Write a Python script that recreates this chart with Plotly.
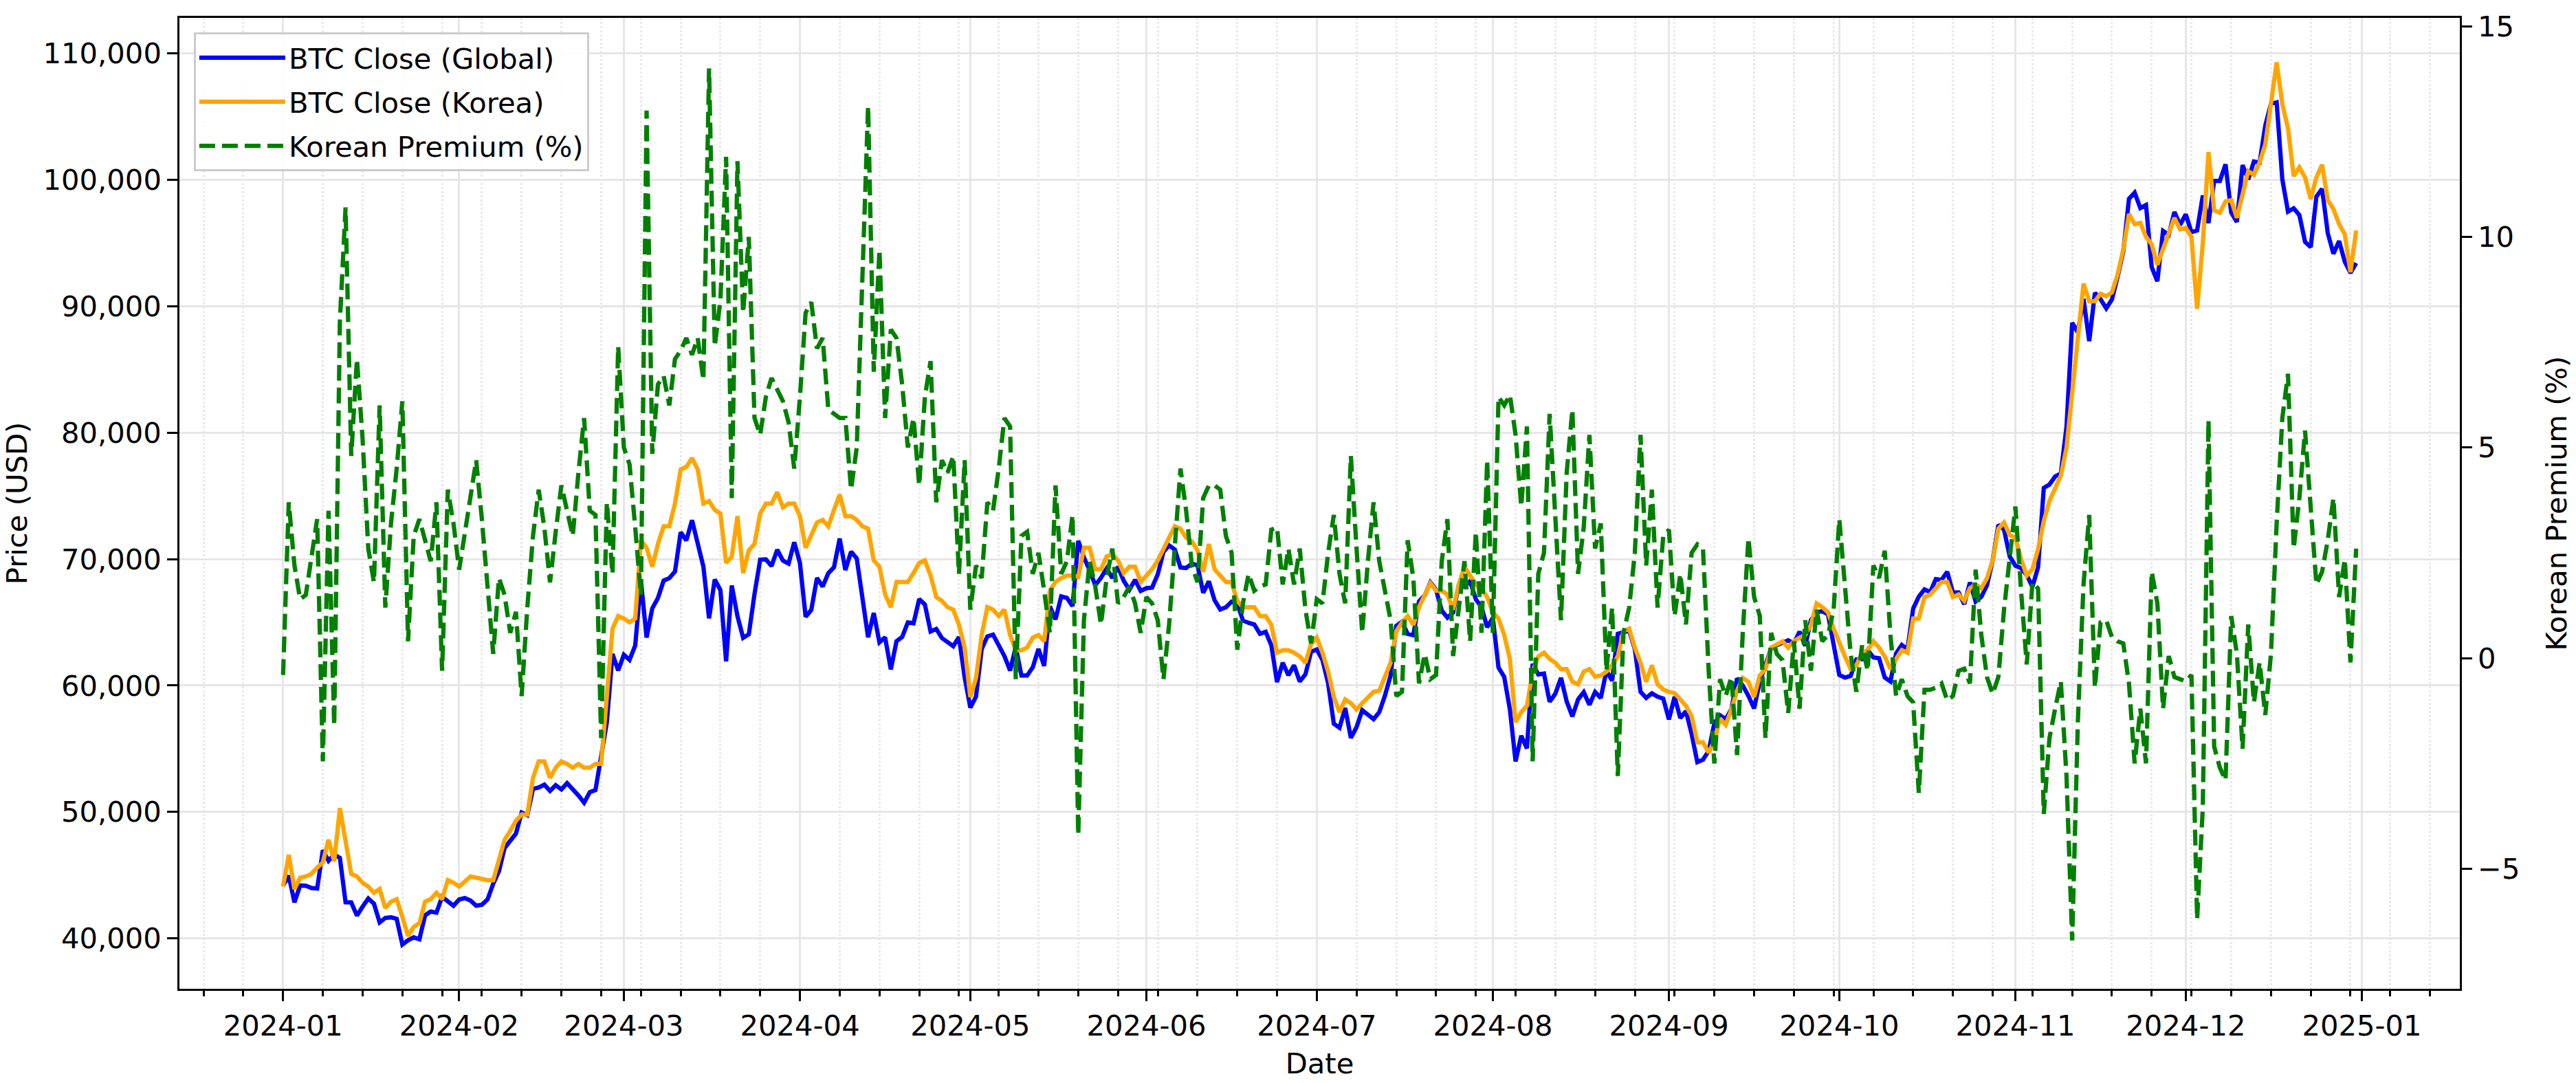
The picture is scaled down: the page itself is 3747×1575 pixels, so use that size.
import pandas as pd
import plotly.graph_objects as go

dates = pd.date_range("2024-01-01", "2024-12-31", freq="D")

global_close = [
    44167, 44958, 42848, 44180, 44163, 43989, 43943, 46970, 46139, 46628, 46368, 42854, 42842, 41796, 42511, 43154,
    42742, 41262, 41618, 41665, 41545, 39507, 39845, 40077, 39933, 41816, 42120, 42035, 43289, 42952, 42582,
    43075, 43185, 42992, 42583, 42658, 43084, 44318, 45301, 47147, 47771, 48293, 49958, 49742, 51826, 51938, 52160,
    51663, 52122, 51779, 52284, 51839, 51304, 50731, 51571, 51733, 54522, 57085, 62504, 61198,
    62440, 62029, 63167, 68331, 63801, 66106, 66925, 68300, 68498, 69020, 72123, 71481, 73083, 71397, 69403, 65316,
    68391, 67549, 61912, 67913, 65491, 63779, 64062, 67234, 69958, 69987, 69455, 70744, 69892, 69645, 71333,
    69702, 65446, 65980, 68508, 67837, 68896, 69362, 71631, 69139, 70587, 70060, 67195, 63821, 65738, 63426, 63811,
    61276, 63512, 63843, 64994, 64927, 66837, 66408, 64276, 64481, 63756, 63419, 63114, 63842, 60636,
    58254, 59123, 62889, 63891, 64031, 63162, 62334, 61187, 63049, 60793, 60793, 61448, 62901, 61553, 66267, 65231,
    67051, 66940, 66278, 71448, 70136, 69122, 67929, 68526, 69265, 68518, 69394, 68296, 67578, 68364, 67491,
    67706, 67751, 68804, 70567, 71082, 70757, 69342, 69305, 69648, 69512, 67332, 68241, 66756, 66012, 66191, 66639,
    66490, 65140, 64960, 64828, 64096, 64252, 63180, 60277, 61804, 60812, 61604, 60320, 60887, 62678,
    62851, 62029, 60173, 56977, 56663, 58231, 55857, 56714, 58052, 57725, 57339, 57889, 59204, 60797, 64725, 65044,
    64088, 63988, 66661, 67131, 68166, 67580, 65927, 65368, 65777, 67912, 67813, 68255, 66819, 66201, 64619,
    65357, 61415, 60680, 58116, 53991, 56034, 55027, 61710, 60880, 60945, 58719, 59354, 60609, 58737, 57560, 58894,
    59478, 58483, 59493, 59012, 61175, 60381, 64094, 64178, 64333, 62880, 59504, 59027, 59388, 59119, 58969,
    57325, 59112, 57431, 57971, 56160, 53948, 54140, 54841, 57019, 57648, 57343, 58127, 60571, 60005, 59182, 58192,
    60308, 61649, 62940, 63193, 63348, 63578, 63339, 64262, 63143, 65181, 65790, 65887, 65635, 63330,
    60837, 60632, 60759, 62067, 62089, 62819, 62224, 62160, 60636, 60326, 62540, 63206, 62870, 66083, 67042, 67612,
    67399, 68418, 68362, 69002, 67367, 67361, 66432, 68161, 66642, 67014, 67929, 69907, 72720, 72339, 70215,
    69482, 69289, 68741, 67811, 69359, 75639, 75905, 76545, 76778, 80474, 88701, 87955, 90584, 87250, 91066, 90558,
    89845, 90542, 92343, 94339, 98504, 98997, 97777, 98013, 93102, 91985, 95962, 95652, 97461, 96449,
    97279, 95865, 96002, 98768, 96593, 99920, 99923, 101236, 97432, 96675, 101173, 100043, 101459, 101372, 104298,
    106030, 106140, 100042, 97491, 97756, 97224, 95104, 94687, 98676, 99300, 95795, 94165, 95163, 93530, 92643, 93429,
]

korea_close = [
    44100, 46600, 43900, 44800, 44900, 45100, 45600, 46000, 47800, 46100, 50300, 47800, 45100, 44900, 44400, 44100,
    43600, 43900, 42400, 42900, 43100, 41700, 40200, 40900, 41200, 42900, 43100, 43600, 43100, 44600, 44400,
    44100, 44500, 44900, 44800, 44700, 44600, 44600, 46300, 47800, 48500, 49300, 49800, 49800, 52700, 54000, 54000,
    52700, 53500, 54000, 53800, 53500, 53800, 53500, 53500, 53800, 53800, 59100, 64500, 65500,
    65300, 65000, 65300, 71500, 70900, 69400, 71200, 72600, 72600, 74400, 77100, 77300, 78000, 77100, 74400, 74600,
    73900, 73600, 69700, 70200, 73400, 68900, 70700, 71200, 73600, 74400, 74400, 75300, 74100, 74400, 74400,
    73400, 70900, 71900, 72900, 73100, 72600, 73900, 75100, 73400, 73400, 73100, 72600, 72400, 69900, 69400, 67200,
    66200, 68200, 68200, 68200, 68900, 69700, 69900, 68700, 67000, 66700, 66200, 66000, 64800, 63000,
    59100, 60600, 64000, 66200, 66000, 65500, 66000, 64000, 62800, 62800, 63000, 63800, 64000, 63500, 67500, 68200,
    68500, 68700, 68700, 68600, 70900, 70900, 69200, 69200, 70200, 70400, 69900, 68900, 69400, 69400, 68200,
    68700, 69200, 69900, 70900, 71700, 72600, 72400, 71700, 71400, 70700, 69000, 71200, 69200, 68700, 68200, 68200,
    66700, 66200, 66200, 66200, 65500, 65500, 64800, 62600, 62800, 62800, 62600, 62300, 61800, 63300,
    63800, 62600, 61100, 59100, 57900, 58900, 58600, 58100, 58600, 59100, 59500, 59600, 60600, 61800, 64300, 65000,
    65500, 64800, 66200, 67200, 68100, 67500, 67500, 67200, 66000, 68000, 69400, 68700, 68000, 67700, 67000,
    65800, 65300, 64000, 62100, 57100, 57900, 58400, 61100, 62300, 62600, 62100, 61800, 61300, 61300, 60300, 60100,
    61100, 61300, 60700, 60800, 61100, 61600, 62300, 64300, 64500, 63000, 61800, 60300, 61600, 60100, 59700,
    59500, 59400, 58900, 58400, 57600, 55500, 55500, 54700, 55600, 57400, 56900, 58100, 59600, 60600, 60300, 59100,
    60800, 61300, 63000, 63300, 63500, 63000, 63500, 63800, 64000, 64800, 66500, 66200, 65800, 64500,
    63300, 62300, 61300, 61600, 62600, 62800, 63500, 63000, 62300, 61300, 62100, 62800, 62600, 65300, 65300, 67000,
    67200, 67700, 68200, 68200, 67000, 67200, 66700, 67700, 68000, 67700, 68500, 69900, 72400, 72900, 71900,
    71700, 70000, 68700, 69200, 70800, 73000, 74600, 75600, 76600, 78800, 83000, 87500, 91800, 90400, 90400, 91000,
    90800, 91100, 92500, 94500, 97300, 96500, 96600, 95500, 94900, 93300, 94600, 95700, 97000, 96100,
    96200, 95500, 89800, 95000, 102200, 97600, 97400, 98300, 98400, 97000, 98900, 100700, 100400, 101400, 102800,
    106000, 109300, 106000, 104100, 100300, 101000, 100200, 98500, 100200, 101200, 98400, 97700, 96500, 95700, 92700, 96000,
]

korean_premium = [
    -0.4, 3.7, 2.2, 1.4, 1.5, 2.4, 3.3, -2.45, 3.5, -1.6, 8.0, 10.7, 4.8, 7.1, 5.2, 2.6,
    1.8, 6.0, 1.2, 3.2, 4.5, 6.1, 0.4, 2.9, 3.3, 2.8, 2.3, 3.7, -0.3, 4.0, 3.2,
    2.1, 3.0, 3.9, 4.7, 3.3, 1.8, 0.1, 1.9, 1.5, 0.6, 1.1, -0.9, 1.2, 2.9, 4.0, 3.1,
    1.8, 3.0, 4.1, 3.5, 2.9, 4.4, 5.7, 3.5, 3.4, -1.9, 3.7, 2.0, 7.4,
    5.0, 4.6, 3.1, 1.5, 13.0, 4.85, 6.5, 6.7, 6.0, 7.1, 7.3, 7.6, 7.2, 7.6, 6.6, 14.0,
    7.4, 8.5, 11.9, 3.8, 11.8, 8.2, 10.0, 5.7, 5.3, 6.2, 6.65, 6.4, 6.1, 5.6, 4.5,
    6.2, 8.2, 8.45, 7.35, 7.6, 5.9, 5.8, 5.7, 5.7, 4.0, 5.0, 9.4, 13.1, 6.8, 9.7, 5.7,
    7.8, 7.6, 6.5, 5.0, 5.7, 4.1, 6.2, 7.05, 3.7, 4.7, 4.4, 4.8, 2.0, 4.7,
    1.15, 2.2, 1.9, 3.7, 3.5, 4.5, 5.7, 5.5, -0.5, 2.9, 3.0, 2.0, 2.5, 1.6, 0.6, 4.1,
    2.0, 2.3, 3.4, -4.2, 0.9, 2.3, 1.7, 0.8, 1.9, 2.6, 1.3, 1.45, 1.7, 1.3, 0.6,
    1.45, 1.3, 0.9, -0.5, 0.8, 2.6, 4.5, 3.5, 2.2, 1.8, 3.8, 4.1, 4.1, 4.0, 2.9, 2.5,
    0.2, 1.3, 2.0, 1.6, 1.7, 1.75, 3.05, 3.1, 1.75, 2.6, 1.75, 2.6, 1.15, 0.35,
    1.4, 1.3, 2.5, 3.4, 2.0, 1.3, 4.8, 2.6, 0.6, 2.3, 3.7, 2.3, 1.6, 0.9, -0.9, -0.8,
    2.8, 1.9, -0.6, 0.1, -0.5, -0.4, 2.3, 3.3, 0.05, 1.2, 2.3, 0.4, 3.0, 0.6, 4.7,
    0.6, 6.2, 6.0, 6.25, 5.3, 3.6, 5.5, -2.45, 2.0, 2.5, 5.8, 3.2, 0.9, 4.4, 5.9, 2.0,
    3.1, 5.3, 2.6, 3.2, -0.3, 1.2, -2.8, 0.6, 1.2, 2.5, 5.3, 2.2, 4.0, 1.2, 2.9,
    3.05, 1.0, 2.0, 0.8, 2.5, 2.7, 2.6, -0.3, -2.5, -0.5, -0.9, -0.45, -2.3, 0.6, 2.85, 1.45,
    1.0, -1.9, 0.6, 0.1, -0.05, -1.3, 0.4, -1.2, 0.9, -0.3, 1.15, 0.4, 0.55, 1.15,
    3.3, 1.75, 0.1, -0.8, 0.3, -0.3, 2.2, 1.9, 2.55, 0.55, -0.9, -0.5, -0.9, -1.05, -3.2, -0.75,
    -0.75, -0.7, -0.6, -1.0, -0.9, -0.3, -0.25, -0.6, 2.1, 0.55, -0.45, -0.85, -0.45, 1.15, 2.3,
    3.6, 1.6, -0.15, 1.8, 1.65, -3.7, -1.9, -1.2, -0.55, -2.8, -6.7, -1.5, 1.75, 3.4, -0.7, 0.85,
    0.9, 0.5, 0.4, 0.35, -0.6, -2.5, -1.2, -2.5, 2.05, 1.3, -1.2, 0.05, -0.45, -0.5,
    -0.55, -0.4, -6.2, -3.55, 5.65, -2.1, -2.6, -2.9, 1.0, 0.1, -2.15, 0.8, -1.05, -0.1, -1.35,
    0.1, 3.2, 5.7, 6.75, 2.6, 3.8, 5.4, 3.65, 1.75, 2.05, 2.8, 3.8, 1.45, 2.35, -0.1, 2.6,
]

assert len(global_close) == len(dates), len(global_close)
assert len(korea_close) == len(dates), len(korea_close)
assert len(korean_premium) == len(dates), len(korean_premium)

FONT = "DejaVu Sans"
FS = 41.7
LW = 6.25
SPINE = 3.3

fig = go.Figure()
fig.add_trace(go.Scatter(x=dates, y=global_close, mode="lines", name="BTC Close (Global)",
                         line=dict(color="#0000ff", width=LW), legendgroup="a"))
fig.add_trace(go.Scatter(x=dates, y=korea_close, mode="lines", name="BTC Close (Korea)",
                         line=dict(color="#ffa500", width=LW), legendgroup="b"))
fig.add_trace(go.Scatter(x=dates, y=korean_premium, mode="lines", name="Korean Premium (%)",
                         line=dict(color="#008000", width=LW, dash="23px,10px"), yaxis="y2", legendgroup="c"))

fig.update_layout(
    width=3747, height=1575,
    margin=dict(l=261, r=168, t=26, b=134, pad=0),
    paper_bgcolor="white", plot_bgcolor="white",
    font=dict(family=FONT, size=FS, color="black"),
    showlegend=True,
    legend=dict(x=0.0063, y=0.985, xanchor="left", yanchor="top",
                bgcolor="rgba(255,255,255,0.85)", bordercolor="#cccccc", borderwidth=3,
                font=dict(family=FONT, size=FS, color="black"),
                itemwidth=125, tracegroupgap=7, traceorder="grouped"),
    xaxis=dict(
        type="date",
        range=["2023-12-13 18:00", "2025-01-18 06:00"],
        tick0="2024-01-01", dtick="M1", tickformat="%Y-%m",
        ticks="outside", ticklen=14.6, tickwidth=SPINE, tickcolor="black",
        showline=True, linecolor="black", linewidth=SPINE, mirror=True,
        showgrid=True, gridcolor="#e6e6e6", gridwidth=SPINE,
        zeroline=False,
        tickfont=dict(family=FONT, size=FS, color="black"),
        title=dict(text="Date", font=dict(family=FONT, size=FS, color="black"), standoff=18),
        minor=dict(tick0="2024-01-01", dtick=7 * 24 * 3600 * 1000, ticks="outside", ticklen=8.3,
                   tickwidth=2.5, tickcolor="black", showgrid=True,
                   gridcolor="rgba(176,176,176,0.28)", gridwidth=2.5, griddash="dot"),
    ),
    yaxis=dict(
        range=[36010, 112820], tick0=0, dtick=10000, tickformat=",d",
        ticks="outside", ticklen=14.6, tickwidth=SPINE, tickcolor="black",
        showline=True, linecolor="black", linewidth=SPINE, mirror=True,
        showgrid=True, gridcolor="#e6e6e6", gridwidth=SPINE, zeroline=False,
        tickfont=dict(family=FONT, size=FS, color="black"),
        title=dict(text="Price (USD)", font=dict(family=FONT, size=FS, color="black"), standoff=16),
    ),
    yaxis2=dict(
        overlaying="y", side="right", anchor="x",
        range=[-7.85, 15.2], tick0=0, dtick=5,
        ticks="outside", ticklen=14.6, tickwidth=SPINE, tickcolor="black",
        showline=True, linecolor="black", linewidth=SPINE,
        showgrid=False, zeroline=False,
        tickfont=dict(family=FONT, size=FS, color="black"),
        title=dict(text="Korean Premium (%)", font=dict(family=FONT, size=FS, color="black"), standoff=40),
    ),
)

fig.write_html("out.html", config={"displayModeBar": False},
               post_script="document.body.style.margin='0';")
